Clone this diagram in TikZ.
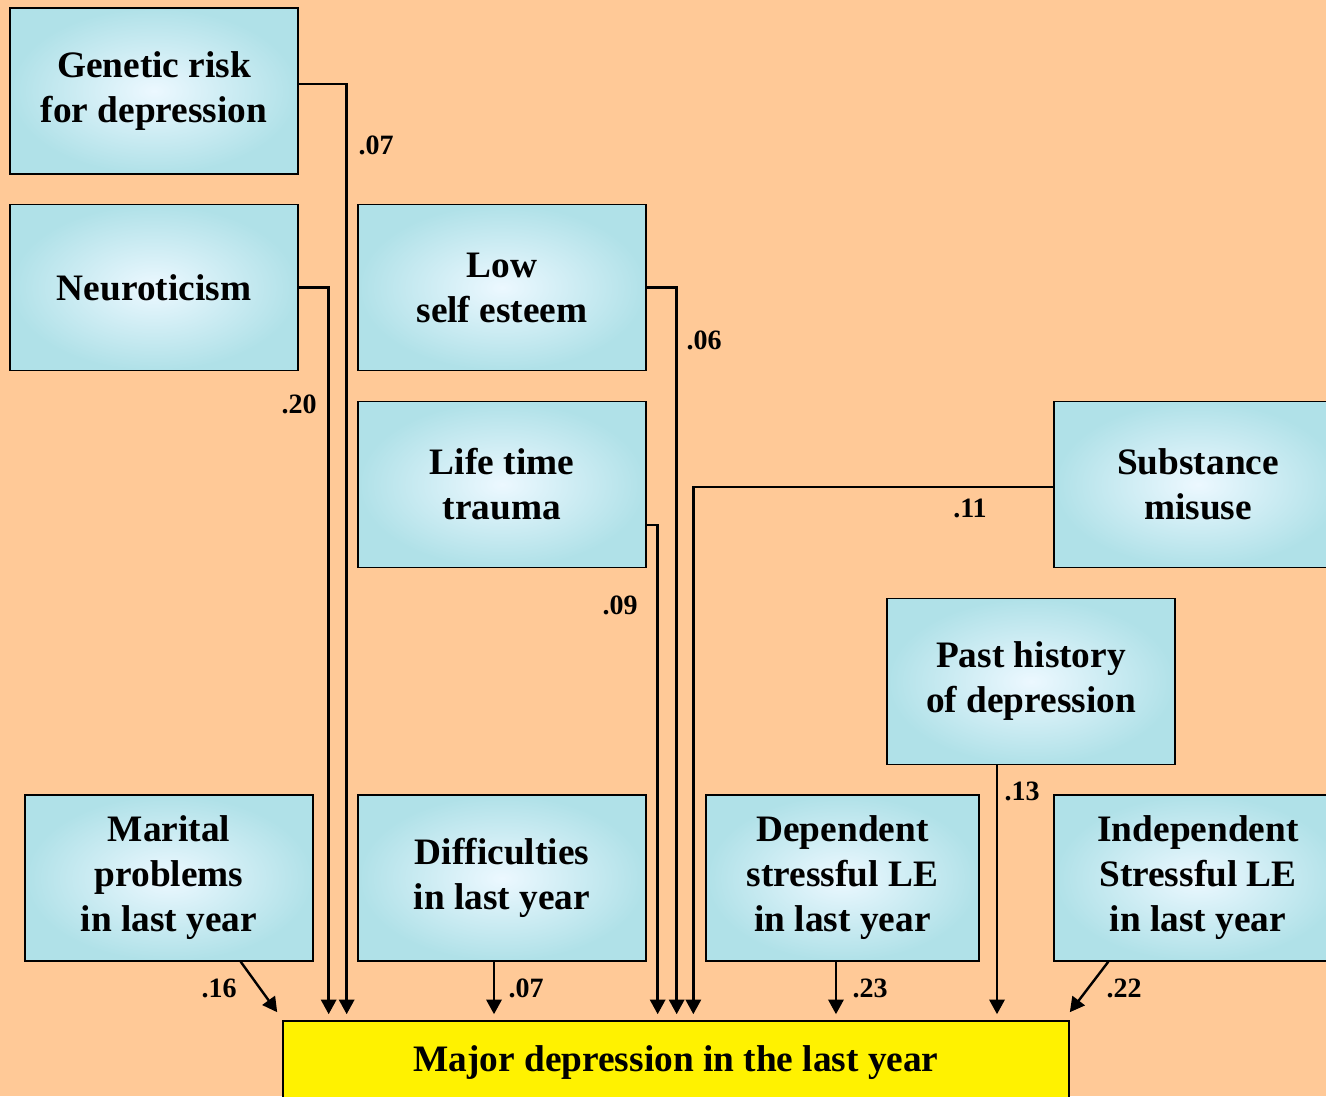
\documentclass[tikz,border=0pt]{standalone}
\usepackage{fontspec}
\setmainfont{Liberation Serif}
\usetikzlibrary{arrows.meta}
\definecolor{peach}{RGB}{255,201,151}
\definecolor{boxedge}{RGB}{176,225,232}
\definecolor{boxcore}{RGB}{236,248,255}
\begin{document}
\begin{tikzpicture}[x=0.75pt,y=-0.75pt,
      factor/.style={draw,line width=1pt,shading=radial,inner color=boxcore,outer color=boxedge,
        minimum width=216pt,minimum height=124.5pt,align=center,font=\bfseries\fontsize{28}{33.75}\selectfont},
      outcome/.style={draw,line width=1.2pt,fill=yellow,minimum width=589.5pt,minimum height=63pt,
        font=\bfseries\fontsize{28}{33.75}\selectfont},
      link/.style={-{Triangle[length=11pt,width=11.5pt]},line width=1.8pt},
      coef/.style={font=\bfseries\fontsize{21}{24}\selectfont}]

      \fill[peach] (0,0) rectangle (1326,1096);
      \useasboundingbox (0,0) rectangle (1326,1096);

      % risk factors
      \node[factor] (gen)  at (154,91)    {Genetic risk\\for depression};
      \node[factor] (neu)  at (154,287.5) {Neuroticism};
      \node[factor] (low)  at (502,287.5) {Low\\ self esteem};
      \node[factor] (life) at (502,484.5) {Life time\\trauma};
      \node[factor] (sub)  at (1198,484.5) {Substance\\misuse};
      \node[factor] (past) at (1031,681.5) {Past history\\of depression};
      \node[factor] (mar)  at (169,878)   {Marital\\problems\\in last year};
      \node[factor] (diff) at (502,878)   {Difficulties\\in last year};
      \node[factor,minimum width=204.75pt] (dep) at (842.5,878) {Dependent\\stressful LE\\in last year};
      \node[factor] (ind)  at (1198,878)  {Independent\\Stressful LE\\in last year};

      \node[outcome] (major) at (676,1063) {Major depression in the last year};

      % paths into the outcome
      \draw[link] ([yshift=5.25pt]gen.east) -- ++(48,0) coordinate (gj) -- ([yshift=4.5pt]gj |- major.north);
      \draw[link] (neu.east) -- ++(30,0) coordinate (nj) -- ([yshift=4.5pt]nj |- major.north);
      \draw[link] (low.east) -- ++(30,0) coordinate (lj) -- ([yshift=4.5pt]lj |- major.north);
      \draw[link] ([yshift=-30.4pt]life.east) -- ++(11,0) coordinate (tj) -- ([yshift=4.5pt]tj |- major.north);
      \draw[link] ([yshift=-1.9pt]sub.west) -- ++(-360,0) coordinate (sj) -- ([yshift=4.5pt]sj |- major.north);
      \draw[link] ([xshift=-25.5pt]past.south) coordinate (pj) -- ([yshift=4.5pt]pj |- major.north);
      \draw[link] ([xshift=-6pt]diff.south) coordinate (dj) -- ([yshift=4.5pt]dj |- major.north);
      \draw[link] ([xshift=-4.9pt]dep.south) coordinate (ej) -- ([yshift=4.5pt]ej |- major.north);
      \draw[link] ([xshift=-54.75pt]mar.south east) -- ([shift={(-3.75pt,6pt)}]major.north west);
      \draw[link] ([xshift=41.25pt]ind.south west) -- ([shift={(0pt,6pt)}]major.north east);

      % coefficients
      \node[coef] (cgen)  at (376,145)  {.07};
      \node[coef] (cneu)  at (299,404)  {.20};
      \node[coef] (clow)  at (704,340)  {.06};
      \node[coef] (clife) at (620,605)  {.09};
      \node[coef] (csub)  at (970,508)  {.11};
      \node[coef] (cpast) at (1022,791) {.13};
      \node[coef] (cmar)  at (219,988)  {.16};
      \node[coef] (cdiff) at (526,988)  {.07};
      \node[coef] (cdep)  at (870,988)  {.23};
      \node[coef] (cind)  at (1124,988) {.22};

    \end{tikzpicture}
\end{document}
